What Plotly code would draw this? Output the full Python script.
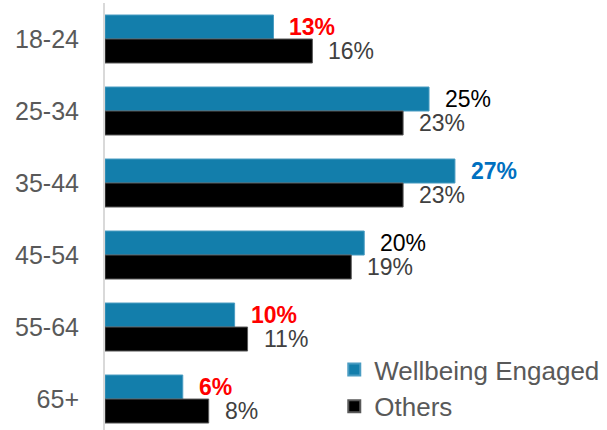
import plotly.graph_objects as go

# Age bands and share of each group (%)
age_groups = ["18-24", "25-34", "35-44", "45-54", "55-64", "65+"]
wellbeing_engaged = [13, 25, 27, 20, 10, 6]
others = [16, 23, 23, 19, 11, 8]

# Label styling for the engaged series (highlights in red / blue)
engaged_label_colors = ["#FF0000", "#000000", "#0070C0", "#000000", "#FF0000", "#FF0000"]
engaged_label_bold = [True, False, True, False, True, True]

BLUE = "#137EAB"
FONT = "Liberation Sans, Arial, sans-serif"

fig = go.Figure()
fig.add_trace(go.Bar(
    y=age_groups, x=wellbeing_engaged, name="Wellbeing Engaged", orientation="h",
    marker=dict(color=BLUE, line=dict(color="#4A9CC2", width=1)),
))
fig.add_trace(go.Bar(
    y=age_groups, x=others, name="Others", orientation="h",
    marker=dict(color="#000000", line=dict(color="#595959", width=1)),
))

annotations = []
for i, (cat, v) in enumerate(zip(age_groups, wellbeing_engaged)):
    txt = f"{v}%"
    if engaged_label_bold[i]:
        txt = f"<b>{txt}</b>"
    annotations.append(dict(
        x=v, y=cat, text=txt, xref="x", yref="y", showarrow=False,
        xanchor="left", yanchor="middle", xshift=14, yshift=12,
        font=dict(family=FONT, size=23, color=engaged_label_colors[i]),
    ))
for cat, v in zip(age_groups, others):
    annotations.append(dict(
        x=v, y=cat, text=f"{v}%", xref="x", yref="y", showarrow=False,
        xanchor="left", yanchor="middle", xshift=14, yshift=-12,
        font=dict(family=FONT, size=23, color="#404040"),
    ))

fig.update_layout(
    width=607, height=430,
    margin=dict(l=105, r=10, t=3, b=0),
    paper_bgcolor="white", plot_bgcolor="white",
    barmode="group", bargap=1/3, bargroupgap=0,
    font=dict(family=FONT, color="#595959"),
    annotations=annotations,
    showlegend=True,
    legend=dict(
        x=0.466, y=0.0, xanchor="left", yanchor="bottom",
        font=dict(family=FONT, size=26, color="#595959"),
        traceorder="normal", bgcolor="rgba(0,0,0,0)",
        tracegroupgap=0, itemsizing="constant",
    ),
    xaxis=dict(range=[0, 37.96], visible=False, fixedrange=True),
    yaxis=dict(
        type="category", categoryorder="array", categoryarray=age_groups,
        range=[5.43, -0.5],
        showline=True, linecolor="#D9D9D9", linewidth=2,
        showgrid=False, zeroline=False, ticks="",
        ticklabelstandoff=19,
        tickfont=dict(family=FONT, size=25, color="#595959"),
    ),
)

fig.write_html("out.html")
